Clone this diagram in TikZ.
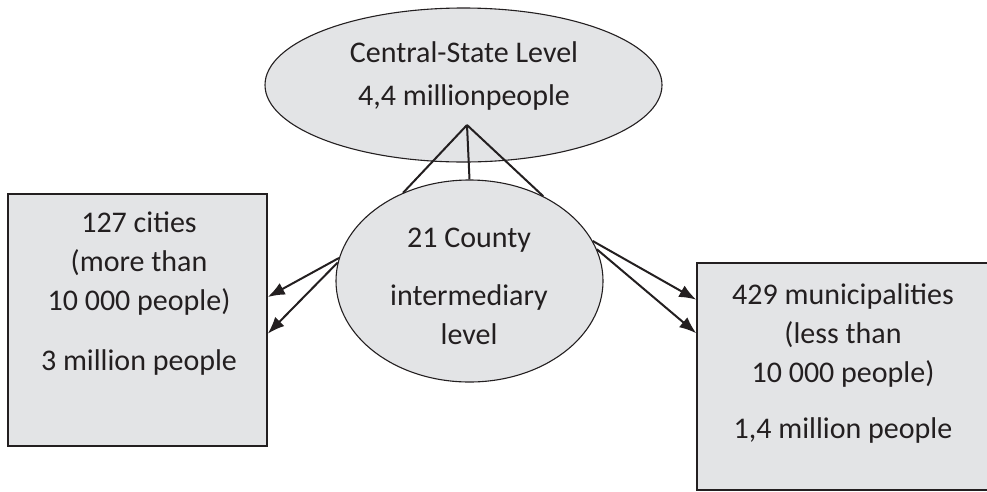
\documentclass[tikz,border=0pt]{standalone}
\usepackage{fontspec}
\setmainfont{Carlito}
\usetikzlibrary{arrows.meta, positioning, shapes.geometric}

\definecolor{levelgray}{RGB}{227,228,230}
\definecolor{inkline}{RGB}{35,31,32}

\begin{document}
\begin{tikzpicture}[
      x=1pt, y=-1pt,
      level/.style={ellipse, draw=inkline, line width=1.1pt, fill=levelgray, inner sep=0pt},
      unit/.style={rectangle, draw=inkline, line width=1.5pt, fill=levelgray, inner sep=0pt},
      txt/.style={align=center, inner sep=0pt, text=inkline, font=\fontsize{30}{39}\selectfont},
      link/.style={draw=inkline, line width=2pt},
      arrow/.style={-{Latex[length=17pt,width=13pt]}, draw=inkline, fill=inkline, line width=2pt}
    ]
    \useasboundingbox (0,0) rectangle (987,491);

    % shapes
    \node[level, minimum width=397pt, minimum height=154pt] (central) at (463.5,85) {};
    \node[level, minimum width=267pt, minimum height=202pt] (county) at (469.5,281) {};
    \node[unit, minimum width=259pt, minimum height=252pt] (cities) at (137.5,320) {};
    \node[unit, minimum width=300pt, minimum height=227pt] (munis) at (847,376.5) {};

    % texts
    \node[txt] (centraltxt) at (464,76) {Central-State Level\\[4pt]4,4 millionpeople};
    \node[txt] (countytxt) at (469,286) {21 County\\[19pt]intermediary\\level};
    \node[txt] (citiestxt) at (139,294) {127 cities\\(more than\\10 000 people)\\[21pt]3 million people};
    \node[txt] (munistxt) at (843,363) {429 municipalities\\(less than\\10 000 people)\\[17pt]1,4 million people};

    % links from the centre
    \coordinate (apex) at (467,125);
    \draw[link] (apex) -- (county.127);
    \draw[link] (apex) -- (county.north);
    \draw[link] (apex) -- (county.49);

    \draw[arrow] (county.170) -- (cities.10);
    \draw[arrow] (county.172) -- (cities.-6);
    \draw[arrow] (county.18) -- (munis.153);
    \draw[arrow] (county.14) -- (munis.164);
\end{tikzpicture}
\end{document}
